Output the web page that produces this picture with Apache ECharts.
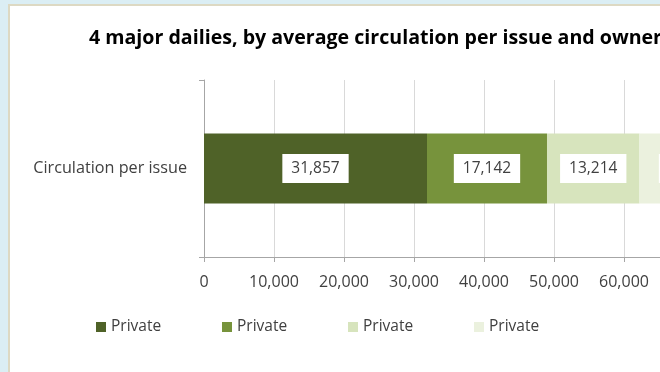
<!DOCTYPE html>
<html>
<head>
<meta charset="utf-8">
<script src="https://cdn.jsdelivr.net/npm/echarts@6/dist/echarts.min.js"></script>
<style>
  html, body { margin: 0; padding: 0; }
  #page { position: relative; width: 660px; height: 372px; overflow: hidden; background: #dbeef4; }
  #frame { position: absolute; left: 8px; top: 4px; width: 800px; height: 420px; border: 2px solid #ddd9c3; background: #fff; }
  #main { width: 800px; height: 420px; }
</style>
</head>
<body>
<div id="page"><div id="frame"><div id="main"></div></div></div>
<script>
// chart data
const categories = ['Circulation per issue'];
const owners = ['Private', 'Private', 'Private', 'Private'];
const circulation = [31857, 17142, 13214, 15000];
const xTicks = [0, 80000, 10000]; // min, max, step
const colors = ['#4f6228', '#77933c', '#d7e4bd', '#ebf1de'];
const legendLeft = [81, 207, 333, 459];

const fmt = v => v.toLocaleString('en-US');
const font = '"Open Sans", sans-serif';

const series = circulation.map((v, i) => ({
  name: 'S' + i,
  type: 'bar',
  stack: 'total',
  barWidth: 70,
  data: [v],
  itemStyle: { color: colors[i] },
  label: {
    show: true,
    position: 'inside',
    formatter: p => fmt(p.value),
    backgroundColor: '#fff',
    color: '#404040',
    fontFamily: font,
    fontSize: 15.5,
    padding: [7, 9, 6, 9]
  },
  emphasis: { disabled: true }
}));

const legends = owners.map((o, i) => ({
  data: ['S' + i],
  left: legendLeft[i],
  top: 308,
  itemWidth: 10,
  itemHeight: 10,
  itemGap: 4,
  icon: 'rect',
  formatter: () => o,
  textStyle: { color: '#404040', fontSize: 15.5, fontFamily: font },
  selectedMode: false
}));

const chart = echarts.init(document.getElementById('main'));
chart.setOption({
  animation: false,
  title: {
    text: '4 major dailies, by average circulation per issue and ownership',
    left: 79,
    top: 22,
    padding: 0,
    textStyle: { fontSize: 19.6, fontWeight: 'bold', color: '#000', fontFamily: font }
  },
  legend: legends,
  grid: { left: 194, top: 74, width: 560, height: 177 },
  xAxis: {
    type: 'value',
    min: xTicks[0],
    max: xTicks[1],
    interval: xTicks[2],
    axisLine: { show: true, lineStyle: { color: '#a6a6a6' } },
    axisTick: { show: true, length: 5, lineStyle: { color: '#a6a6a6' } },
    splitLine: { lineStyle: { color: '#d9d9d9' } },
    axisLabel: { color: '#404040', fontSize: 16, fontFamily: font, margin: 17, formatter: fmt }
  },
  yAxis: {
    type: 'category',
    data: categories,
    axisLine: { lineStyle: { color: '#a6a6a6' } },
    axisTick: { show: true, length: 5, lineStyle: { color: '#a6a6a6' } },
    axisLabel: { color: '#404040', fontSize: 16.2, fontFamily: font, margin: 17 }
  },
  series: series
});
</script>
</body>
</html>
